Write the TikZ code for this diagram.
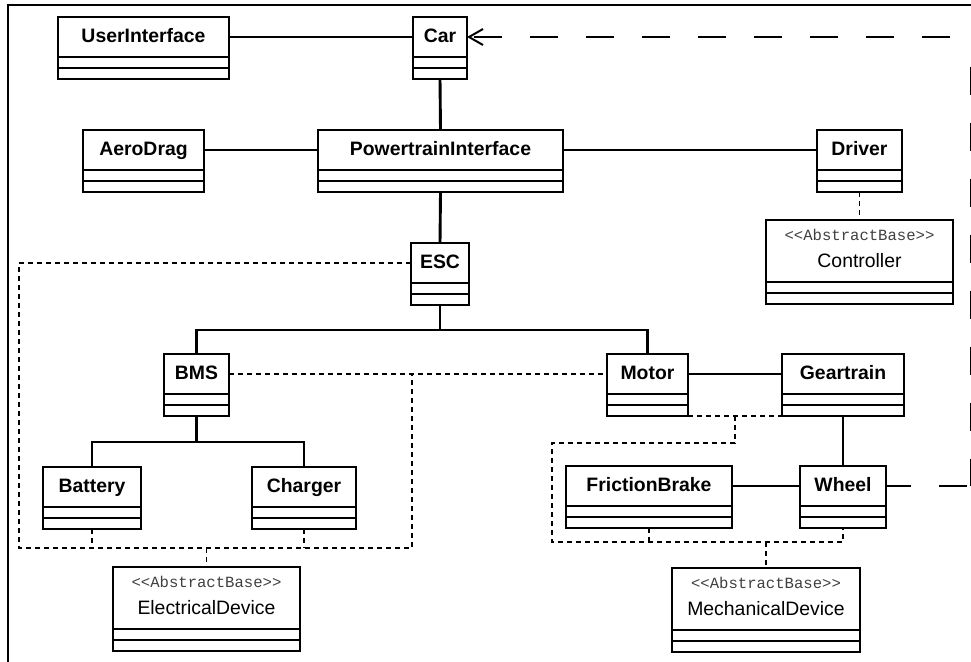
\documentclass[tikz,border=0pt]{standalone}
\usepackage{fontspec}
\setsansfont{Liberation Sans}
\setmonofont{Liberation Mono}
\usetikzlibrary{arrows.meta}
\tikzset{>={Straight Barb[length=14pt,width=16pt]}}
\definecolor{stereo}{HTML}{404040}

% class box: name compartment + two empty compartments
\newcommand{\umlclass}[6][]{%
  \node[umlname, minimum width=#5, #1] (#2) at (#3,#4) {#6};
  \node[umlpart, minimum width=#5, anchor=north] (#2-a) at (#2.south) {};
  \node[umlpart, minimum width=#5, anchor=north] (#2-b) at (#2-a.south) {};
}
\newcommand{\ABSTRACT}[1]{{\ttfamily\fontsize{15.6}{27}\selectfont\color{stereo}<{}<AbstractBase>{}>}\\#1}

\begin{document}
\begin{tikzpicture}[x=1pt, y=-1pt,
  umlname/.style={draw, line width=2.4pt, inner sep=0pt, outer sep=0pt, minimum height=40pt,
    font=\sffamily\bfseries\fontsize{19.4}{22}\selectfont, text height=14pt, text depth=4pt},
  umlpart/.style={draw, line width=2.4pt, inner sep=0pt, outer sep=0pt, minimum height=11pt},
  abstract/.style={minimum height=62pt, align=center, text height=, text depth=6pt,
    font=\sffamily\fontsize{19.4}{27}\selectfont},
  assoc/.style={line width=2.9pt},
  realize/.style={line width=1.2pt, dash pattern=on 5pt off 4pt},
  navlink/.style={line width=2pt, dash pattern=on 28pt off 28pt, dash phase=52pt}]

  \useasboundingbox (0,0) rectangle (971,661);
  \fill[white] (0,0) rectangle (971,661);
  \draw[line width=2pt] (8,700) -- (8,5) -- (1000,5);

  % classes
  \umlclass{ui}{143.5}{37}{171pt}{UserInterface}
  \umlclass{car}{440}{37}{54pt}{Car}
  \umlclass{aero}{143.5}{150}{121pt}{AeroDrag}
  \umlclass{pti}{440.5}{150}{245pt}{PowertrainInterface}
  \umlclass{driver}{859.5}{150}{85pt}{Driver}
  \umlclass[abstract]{ctrl}{859.5}{251}{187pt}{\ABSTRACT{Controller}}
  \umlclass{esc}{440}{263}{58pt}{ESC}
  \umlclass{bms}{196.5}{374}{65pt}{BMS}
  \umlclass{motor}{647.5}{374}{81pt}{Motor}
  \umlclass{gear}{843}{374}{122pt}{Geartrain}
  \umlclass{battery}{92}{487}{98pt}{Battery}
  \umlclass{charger}{304}{487}{104pt}{Charger}
  \umlclass{brake}{649}{486}{166pt}{FrictionBrake}
  \umlclass{wheel}{843}{486}{86pt}{Wheel}
  \umlclass[abstract]{elec}{206.5}{598}{187pt}{\ABSTRACT{ElectricalDevice}}
  \umlclass[abstract]{mech}{766}{599}{188pt}{\ABSTRACT{MechanicalDevice}}

  \coordinate (escbus) at (440,330);
  \coordinate (bmsbus) at (196.5,442);
  \coordinate (elbus) at (206.5,548);
  \coordinate (mechbus) at (766,542);
  \coordinate (navtop) at (971.4,37);
  \coordinate (navbot) at (971.4,486);

  % associations
  \draw[assoc] (ui.east) -- (car.west);
  \draw[assoc] (car-b.south) -- (pti.north);
  \draw[assoc] (aero.east) -- (pti.west);
  \draw[assoc] (pti.east) -- (driver.west);
  \draw[assoc] (pti-b.south) -- (esc.north);
  \draw[assoc] (esc-b.south) -- (escbus);
  \draw[assoc] (bms.north) |- (escbus) -| (motor.north);
  \draw[assoc] (bms-b.south) -- (bmsbus);
  \draw[assoc] (battery.north) |- (bmsbus) -| (charger.north);
  \draw[assoc] (motor.east) -- (gear.west);
  \draw[assoc] (gear-b.south) -- (wheel.north);
  \draw[assoc] (brake.east) -- (wheel.west);
  \draw[navlink, <-] ([yshift=-26pt]navtop) -- (navbot) (navbot) -- (wheel.east)
    (car.east) -- (navtop);

  % realizations
  \draw[realize] (driver-b.south) -- (ctrl.north);
  \draw[realize] (esc.west) -| (19,548) -- (412,548) -- (412,374);
  \draw[realize] (bms.east) -- (motor.west);
  \draw[realize] (battery-b.south) -- (battery-b.south |- elbus);
  \draw[realize] (charger-b.south) -- (charger-b.south |- elbus);
  \draw[realize] (elbus) -- (elec.north);
  \draw[realize] (motor-b.south east) -- (gear-b.south west);
  \draw[realize] (735,416) |- (552,443) |- (wheel-b.south |- mechbus) -- (wheel-b.south);
  \draw[realize] (brake-b.south) -- (brake-b.south |- mechbus);
  \draw[realize] (mechbus) -- (mech.north);

\end{tikzpicture}
\end{document}
